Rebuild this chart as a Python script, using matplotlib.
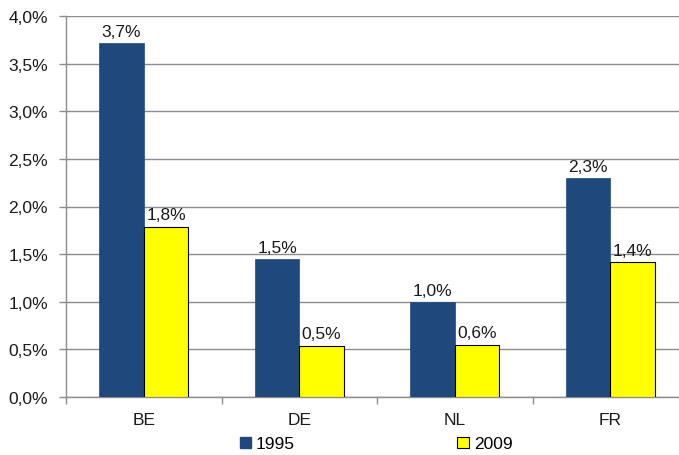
import matplotlib
matplotlib.use("Agg")
import matplotlib.pyplot as plt
from matplotlib.patches import Patch
from matplotlib.ticker import FuncFormatter
import numpy as np

plt.rcParams['font.family'] = ['Liberation Sans Narrow', 'Liberation Sans', 'DejaVu Sans']

categories = ["BE", "DE", "NL", "FR"]
values_1995 = [3.72, 1.45, 1.00, 2.30]
values_2009 = [1.79, 0.54, 0.55, 1.42]
labels_1995 = ["3,7%", "1,5%", "1,0%", "2,3%"]
labels_2009 = ["1,8%", "0,5%", "0,6%", "1,4%"]
series_names = ["1995", "2009"]

blue = "#1F497D"
yellow = "#FFFF00"
grid_c = "#8C8C8C"
txt_c = "#1a1a1a"
fs = 12.5

fig = plt.figure(figsize=(6.79, 4.56), dpi=100)
ax = fig.add_axes([66/679, 58/456, 622/679, 381/456])

x = np.arange(len(categories))
w = 0.286
b1 = ax.bar(x - w/2, values_1995, w, color=blue, edgecolor=blue, linewidth=0.5, zorder=3)
b2 = ax.bar(x + w/2, values_2009, w, color=yellow, edgecolor="black", linewidth=0.8, zorder=3)

for bars, labs in ((b1, labels_1995), (b2, labels_2009)):
    for r, t in zip(bars, labs):
        ax.annotate(t, (r.get_x() + r.get_width()/2, r.get_height()),
                    xytext=(0, 3), textcoords="offset points",
                    ha="center", va="bottom", fontsize=fs, color=txt_c)

ax.set_ylim(0, 4.0)
ax.set_xlim(-0.5, 3.5)
ax.set_yticks(np.arange(0, 4.01, 0.5))
ax.yaxis.set_major_formatter(FuncFormatter(lambda v, p: f"{v:.1f}%".replace(".", ",")))
ax.yaxis.grid(True, color=grid_c, linewidth=1, zorder=0)
ax.set_axisbelow(True)

ax.set_xticks(x)
ax.set_xticklabels(categories)
ax.set_xticks(np.arange(-0.5, 3.6, 1.0), minor=True)
ax.tick_params(axis="x", which="major", length=0, pad=11, labelsize=fs, labelcolor=txt_c)
ax.tick_params(axis="x", which="minor", length=5, color=grid_c, width=1)
ax.tick_params(axis="y", length=5, color=grid_c, width=1, pad=8, labelsize=fs, labelcolor=txt_c)

for s in ("top", "right"):
    ax.spines[s].set_visible(False)
for s in ("left", "bottom"):
    ax.spines[s].set_color(grid_c)
    ax.spines[s].set_linewidth(1)

handles = [Patch(facecolor=blue, edgecolor=blue),
           Patch(facecolor=yellow, edgecolor="black", linewidth=0.8)]
fig.legend(handles, series_names, loc="center", bbox_to_anchor=(376/679, 11/456),
           ncol=2, frameon=False, fontsize=fs, handlelength=0.65, handleheight=0.65,
           handletextpad=0.3, columnspacing=9.35, borderpad=0)

fig.savefig("out.png", dpi=100)
